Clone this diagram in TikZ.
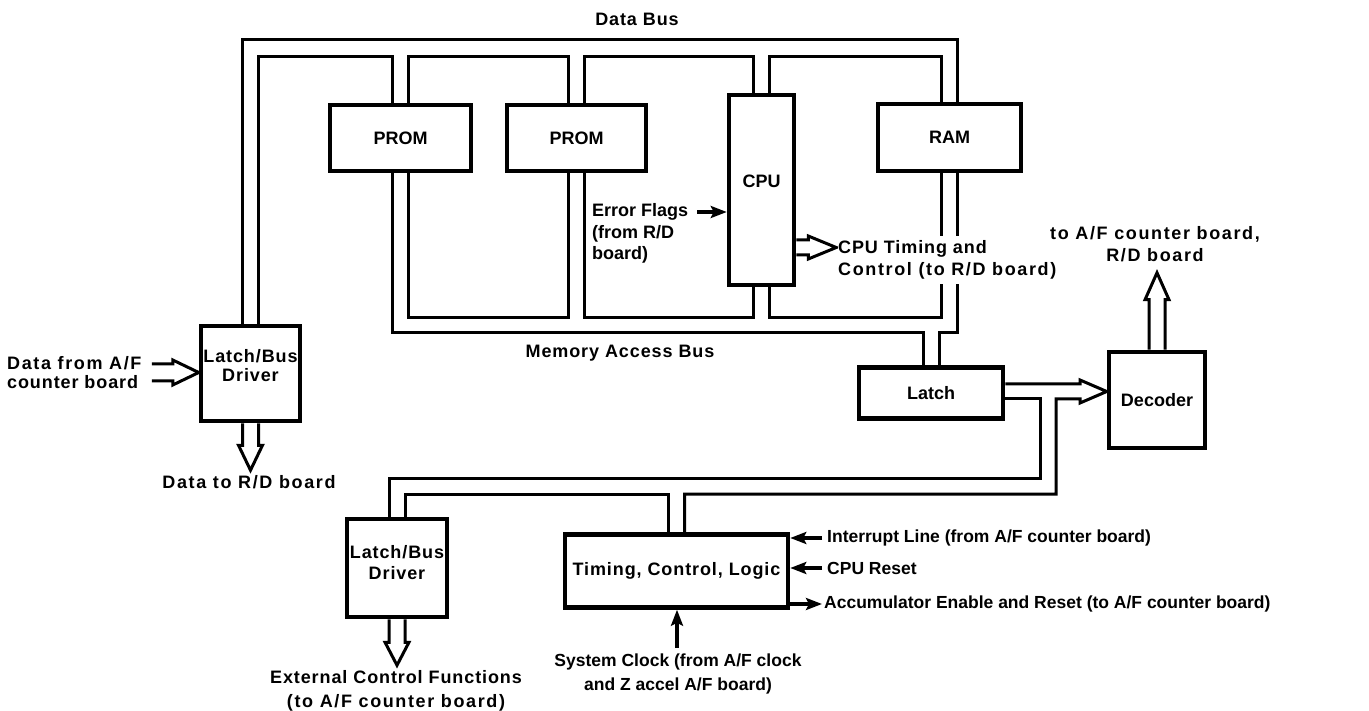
\documentclass[tikz,border=0pt]{standalone}
\usepackage{fontspec}
\setmainfont{Liberation Sans}
\newfontfamily\wa[LetterSpace=5]{Liberation Sans}
\newfontfamily\wb[LetterSpace=9]{Liberation Sans}
\usetikzlibrary{calc,arrows.meta}
\begin{document}
\begin{tikzpicture}[x=1pt,y=-1pt,
  every node/.style={font=\fontsize{18}{21}\selectfont\bfseries},
  box/.style={draw,line width=4.5pt,inner sep=0pt},
  txt/.style={inner sep=0pt},
  sm/.style={font=\fontsize{17.5}{21}\selectfont\bfseries},
  bus/.style={line width=3pt,line join=miter},
  arr/.style={line width=3.2pt,-{Stealth[length=16pt,width=12pt,inset=3pt]}},
]
\useasboundingbox (0,0) rectangle (1369,711);
% boxes
\node[box,minimum width=141pt,minimum height=66pt] (prom1) at (400.5,138) {PROM};
\node[box,minimum width=139pt,minimum height=66pt] (prom2) at (576.5,138) {PROM};
\node[box,minimum width=65pt,minimum height=190pt] (cpu) at (761.5,190) {};
\node[txt] (cpulbl) at (761.5,181) {CPU};
\node[box,minimum width=143pt,minimum height=67pt] (ram) at (949.5,137.5) {RAM};
\node[box,minimum width=99pt,minimum height=95pt] (lbd1) at (250.5,373.5) {};
\node[txt,align=center,font=\fontsize{18}{19}\selectfont\bfseries\wa] (lbd1lbl) at (250.5,366) {Latch/Bus\\Driver};
\node[box,minimum width=144pt,minimum height=51pt] (latch) at (931,393) {Latch};
\node[box,minimum width=96pt,minimum height=96pt] (dec) at (1157,400) {Decoder};
\node[box,minimum width=100pt,minimum height=98pt] (lbd2) at (397,568) {};
\node[txt,align=center,font=\fontsize{18}{21}\selectfont\bfseries\wa] (lbd2lbl) at (397,562.5) {Latch/Bus\\Driver};
\node[box,minimum width=223pt,minimum height=73pt,font=\fontsize{18}{21}\selectfont\bfseries\wa] (tcl) at (676.5,571) {Timing, Control, Logic};
% taps
\foreach \n in {lbd1,prom1,prom2,cpu,ram,latch,lbd2,tcl,dec}{
  \coordinate (\n-nl) at ($(\n.north)+(-8,0)$);
  \coordinate (\n-nr) at ($(\n.north)+(8,0)$);
  \coordinate (\n-sl) at ($(\n.south)+(-8,0)$);
  \coordinate (\n-sr) at ($(\n.south)+(8,0)$);
}
% rails
\coordinate (dbO) at (0,40);
\coordinate (dbI) at (0,57);
\coordinate (mbI) at (0,318);
\coordinate (mbO) at (0,333);
\coordinate (lbO) at (0,478);
\coordinate (lbI) at (0,494);
\coordinate (le1) at ($(latch.east)+(0,-9)$);
\coordinate (le2) at ($(latch.east)+(0,6)$);
\coordinate (dnL) at (1040,0);
\coordinate (dnR) at (1056,0);
\coordinate (barb) at (1080,0);
\coordinate (bu) at (le1 -| barb);
\coordinate (bl) at (le2 -| barb);
\coordinate (lm) at ($(le1)!0.5!(le2)$);
\coordinate (dtip) at (lm -| dec.west);
% data bus
\draw[bus] (lbd1-nl) |- (dbO -| ram-nr) -- (ram-nr);
\draw[bus] (lbd1-nr) |- (dbI -| prom1-nl) -- (prom1-nl);
\draw[bus] (prom1-nr) |- (dbI -| prom2-nl) -- (prom2-nl);
\draw[bus] (prom2-nr) |- (dbI -| cpu-nl) -- (cpu-nl);
\draw[bus] (cpu-nr) |- (dbI -| ram-nl) -- (ram-nl);
% memory access bus
\draw[bus] (prom1-sl) |- (mbO -| latch-nl) -- (latch-nl);
\draw[bus] (prom1-sr) |- (mbI -| prom2-sl) -- (prom2-sl);
\draw[bus] (prom2-sr) |- (mbI -| cpu-sl) -- (cpu-sl);
\draw[bus] (cpu-sr) |- (mbI -| ram-sl) -- (ram-sl);
\draw[bus] (ram-sr) |- (mbO -| latch-nr) -- (latch-nr);
% latch to decoder and lower bus
\draw[bus] (le2) -- (le2 -| dnL) -- (dnL |- lbO) -- (lbO -| lbd2-nl) -- (lbd2-nl);
\draw[bus] (lbd2-nr) |- (lbI -| tcl-nl) -- (tcl-nl);
\draw[bus] (le1) -- (bu) -- ($(bu)+(0,-4)$) -- (dtip) -- ($(bl)+(0,4)$) -- (bl) -- (le2 -| dnR) -- (dnR |- lbI) -- (lbI -| tcl-nr) -- (tcl-nr);
% decoder output
\coordinate (dout) at ($(dec.north)+(0,-77)$);
\draw[bus] (dec-nl) -- ++(0,-50) -- ++(-4,0) -- (dout) -- ($(dec.north)+(12,-50)$) -- ++(-4,0) -- (dec-nr);
% lbd1 output
\coordinate (o1) at ($(lbd1.south)+(0,47)$);
\draw[bus] (lbd1-sl) -- ++(0,22) -- ++(-4,0) -- (o1) -- ($(lbd1.south)+(12,22)$) -- ++(-4,0) -- (lbd1-sr);
% lbd2 output
\coordinate (o2) at ($(lbd2.south)+(0,46)$);
\draw[bus] (lbd2-sl) -- ++(0,23) -- ++(-4,0) -- (o2) -- ($(lbd2.south)+(12,23)$) -- ++(-4,0) -- (lbd2-sr);
% lbd1 input
\coordinate (i1) at ($(lbd1.west)+(0,-1)$);
\draw[bus] ($(i1)+(-47,-8.5)$) -- ($(i1)+(-26,-8.5)$) -- ++(0,-4) -- (i1) -- ($(i1)+(-26,12.5)$) -- ++(0,-4) -- ($(i1)+(-47,8.5)$);
% cpu timing output
\coordinate (ctip) at ($(cpu.east)+(40,57.5)$);
\draw[bus] ($(cpu.east)+(0,50)$) -- ++(12,0) -- ++(0,-4) -- (ctip) -- ($(cpu.east)+(12,69)$) -- ++(0,-4) -- ($(cpu.east)+(0,65)$);
% thin arrows
\coordinate (efs) at (697,212);
\draw[arr] (efs) -- (efs -| cpu.west);
\coordinate (ints) at (822,538);
\draw[arr] (ints) -- (ints -| tcl.east);
\coordinate (rsts) at (822,568);
\draw[arr] (rsts) -- (rsts -| tcl.east);
\coordinate (acce) at (822,604);
\draw[arr] (acce -| tcl.east) -- (acce);
\coordinate (clks) at (677,648);
\draw[arr] (clks) -- (clks |- tcl.south);
% labels
\node[txt,font=\fontsize{18}{21}\selectfont\bfseries\wa] (dbus) at (637,19) {Data Bus};
\node[txt,font=\fontsize{18}{21}\selectfont\bfseries\wa] (mbus) at (620,353) {Memory Access Bus};
\node[txt,anchor=west,align=left,font=\fontsize{18}{19}\selectfont\bfseries] (dfrom) at (7,373) {\wb Data from A/F\\\wa counter board};
\node[txt,font=\fontsize{18}{21}\selectfont\bfseries\wb] (dto) at (249,482) {Data to R/D board};
\node[txt,anchor=west,align=left,font=\fontsize{18}{21.5}\selectfont\bfseries] (eflags) at (592,233.5) {Error Flags\\(from R/D\\board)};
\node[txt,anchor=west,align=left,fill=white,inner ysep=5pt,font=\fontsize{18}{22}\selectfont\bfseries] (cputc) at (838,260) {\wa CPU Timing and\\\wb Control (to R/D board)};
\node[txt,align=center,font=\fontsize{18}{21.5}\selectfont\bfseries\wb] (toaf) at (1155,244) {to A/F counter board,\\R/D board};
\node[txt,align=center,font=\fontsize{18}{24}\selectfont\bfseries] (ext) at (396,691) {\wa External Control Functions\\\wb (to A/F counter board)};
\node[txt,sm,align=center,font=\fontsize{17.5}{24}\selectfont\bfseries] (sysclk) at (678,674) {System Clock (from A/F clock\\and Z accel A/F board)};
\node[txt,sm,anchor=west] (intl) at (827,538) {Interrupt Line (from A/F counter board)};
\node[txt,sm,anchor=west] (rstl) at (827,568) {CPU Reset};
\node[txt,sm,anchor=west] (accl) at (824,604) {Accumulator Enable and Reset (to A/F counter board)};
\end{tikzpicture}
\end{document}
